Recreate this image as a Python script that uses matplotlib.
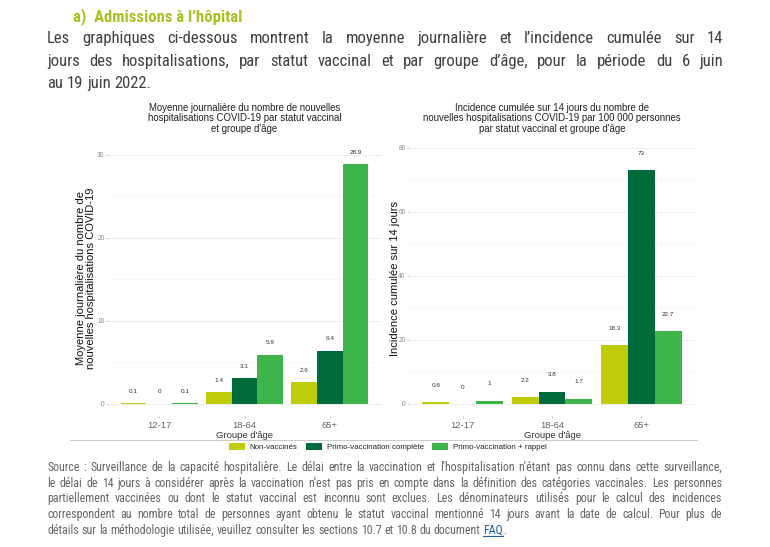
import matplotlib
matplotlib.use("Agg")
import matplotlib.pyplot as plt
import matplotlib.transforms as mtransforms
from matplotlib import font_manager
from matplotlib.font_manager import FontProperties
from matplotlib.patches import Patch
from matplotlib.lines import Line2D
import numpy as np

# ---------------- data ----------------
age_groups = ["12-17", "18-64", "65+"]
series_names = ["Non-vaccinés", "Primo-vaccination complète", "Primo-vaccination + rappel"]

daily_non_vacc = [0.1, 1.4, 2.6]
daily_primo = [0, 3.1, 6.4]
daily_rappel = [0.1, 5.9, 28.9]

incid_non_vacc = [0.6, 2.2, 18.3]
incid_primo = [0, 3.8, 73]
incid_rappel = [1, 1.7, 22.7]

left_yticks = [0, 10, 20, 30]
right_yticks = [0, 20, 40, 60, 80]

left_title = "Moyenne journalière du nombre de nouvelles\nhospitalisations COVID-19 par statut vaccinal\net groupe d'âge"
right_title = "Incidence cumulée sur 14 jours du nombre de\nnouvelles hospitalisations COVID-19 par 100 000 personnes\npar statut vaccinal et groupe d'âge"
left_ylabel = "Moyenne journalière du nombre de\nnouvelles hospitalisations COVID-19"
right_ylabel = "Incidence cumulée sur 14 jours"
xlabel = "Groupe d'âge"

header = "a)  Admissions à l’hôpital"
para_lines = [
    "Les graphiques ci-dessous montrent la moyenne journalière et l’incidence cumulée sur 14",
    "jours des hospitalisations, par statut vaccinal et par groupe d’âge, pour la période du 6 juin",
    "au 19 juin 2022.",
]
source_lines = [
    "Source : Surveillance de la capacité hospitalière. Le délai entre la vaccination et l’hospitalisation n’étant pas connu dans cette surveillance,",
    "le délai de 14 jours à considérer après la vaccination n’est pas pris en compte dans la définition des catégories vaccinales. Les personnes",
    "partiellement vaccinées ou dont le statut vaccinal est inconnu sont exclues. Les dénominateurs utilisés pour le calcul des incidences",
    "correspondent au nombre total de personnes ayant obtenu le statut vaccinal mentionné 14 jours avant la date de calcul. Pour plus de",
    "détails sur la méthodologie utilisée, veuillez consulter les sections 10.7 et 10.8 du document",
]
link_text = "FAQ"

# ---------------- style ----------------
colors = ["#BFCC0A", "#006B3A", "#3DB54A"]
header_green = "#A6C31E"

ttf = font_manager.fontManager.ttflist
names = {f.name for f in ttf}
chart_font = "Liberation Sans" if "Liberation Sans" in names else "DejaVu Sans"
plt.rcParams["font.family"] = [chart_font, "DejaVu Sans"]


def _is_regular(f):
    return f.style == "normal" and f.weight in (400, "normal", "regular", "book")


def _is_bold(f):
    return f.style == "normal" and f.weight in (700, "bold")


def find_narrow(pred):
    prefs = ["Liberation Sans Narrow", "Arial Narrow", "Roboto Condensed",
             "Open Sans Condensed", "Noto Sans", "DejaVu Sans"]
    cands = []
    for f in ttf:
        fn = f.fname.lower()
        narrow = ("narrow" in f.name.lower() or "condensed" in f.name.lower()
                  or f.stretch in ("condensed", "semi-condensed", 500, 300)
                  or ("condensed" in fn and "semicondensed" not in fn and "extra" not in fn))
        if narrow and pred(f) and "mono" not in f.name.lower() and "serif" not in f.name.lower():
            rank = next((i for i, p in enumerate(prefs) if f.name.startswith(p)), 99)
            cands.append((rank, f.fname))
    if cands:
        cands.sort()
        return cands[0][1]
    return None


narrow_reg = find_narrow(_is_regular)
narrow_bold = find_narrow(_is_bold)


def prop(size, bold=False):
    fname = narrow_bold if bold else narrow_reg
    if fname:
        return FontProperties(fname=fname, size=size)
    return FontProperties(family=chart_font, size=size, weight="bold" if bold else "normal")


W, H = 770, 547
fig = plt.figure(figsize=(W / 100, H / 100), dpi=100)
fig.patch.set_facecolor("white")


def px_axes(x0, y0, x1, y1):
    return fig.add_axes([x0 / W, 1 - y1 / H, (x1 - x0) / W, (y1 - y0) / H])


def draw_chart(ax, series, yticks, ylim, nudge, title, ylabel, label_x):
    x = np.arange(len(age_groups)) + 1
    width = 0.3
    for i, (vals, c) in enumerate(zip(series, colors)):
        pos = x + (i - 1) * width
        ax.bar(pos, vals, width=width, color=c, edgecolor="none", zorder=3,
               label=series_names[i])
        for p, v in zip(pos, vals):
            ax.text(p, v + nudge, f"{v:g}", ha="center", va="center",
                    fontsize=4.6, color="#333333", zorder=4)
    ax.set_xlim(0.4, 3.6)
    ax.set_ylim(*ylim)
    ax.set_yticks(yticks)
    minor = [(a + b) / 2 for a, b in zip(yticks[:-1], yticks[1:])]
    ax.set_yticks(minor, minor=True)
    ax.grid(axis="y", which="major", color="#EBEBEB", lw=0.6, zorder=0)
    ax.grid(axis="y", which="minor", color="#F5F5F5", lw=0.5, zorder=0)
    ax.set_xticks(x)
    ax.set_xticklabels(age_groups)
    for s in ax.spines.values():
        s.set_visible(False)
    ax.tick_params(axis="y", which="major", length=1.5, width=0.5, color="#AAAAAA",
                   labelsize=4.8, labelcolor="#8C8C8C", pad=1)
    ax.tick_params(axis="y", which="minor", length=0)
    ax.tick_params(axis="x", length=1.5, width=0.5, color="#AAAAAA",
                   labelsize=6.8, labelcolor="#666666", pad=2)
    ax.set_xlabel(xlabel, fontsize=6.8, color="#333333", labelpad=0.5)
    ax.set_ylabel(ylabel, fontsize=8, color="#111111", linespacing=1.0)
    ax.yaxis.set_label_coords(label_x, 0.5)
    ax.set_title(title, fontsize=6.9, color="#222222", linespacing=1.05, pad=6)


ax1 = px_axes(108, 140, 381, 416)
draw_chart(ax1, [daily_non_vacc, daily_primo, daily_rappel], left_yticks,
           (-1.45, 31.8), 1.45, left_title, left_ylabel, -0.045)
ax2 = px_axes(409, 140, 695, 416)
draw_chart(ax2, [incid_non_vacc, incid_primo, incid_rappel], right_yticks,
           (-3.75, 82.5), 5.3, right_title, right_ylabel, -0.033)

# separator line above legend
fig.add_artist(Line2D([70 / W, 697 / W], [1 - 440 / H, 1 - 440 / H],
                      color="#CCCCCC", lw=0.8))

handles = [Patch(facecolor=c, edgecolor="none") for c in colors]
fig.legend(handles, series_names, loc="center", bbox_to_anchor=(388 / W, 1 - 447 / H),
           ncol=3, frameon=False, fontsize=5.7, handlelength=2.0, handleheight=1.0,
           handletextpad=0.6, columnspacing=1.1, borderpad=0, labelcolor="#222222")

ident = mtransforms.IdentityTransform()
renderer = fig.canvas.get_renderer()


def text_width(s, fp):
    t = fig.text(0, 0, s, transform=ident, fontproperties=fp)
    w = t.get_window_extent(renderer).width
    t.remove()
    return w


def fit_size(lines, target, desired):
    s0 = 10.0
    fp = prop(s0)
    nat = max(text_width(l, fp) for l in lines)
    return min(desired, s0 * target * 0.985 / nat)


def justify(line, x0, x1, y, fp, last=False, color="k"):
    words = line.split(" ")
    texts = [fig.text(0, H - y, w, transform=ident, va="baseline", ha="left",
                      fontproperties=fp, color=color) for w in words]
    widths = [t.get_window_extent(renderer).width for t in texts]
    sw = text_width("a a", fp) - text_width("aa", fp)
    if last or len(words) == 1:
        gap = sw
    else:
        gap = (x1 - x0 - sum(widths)) / (len(words) - 1)
    x = x0
    for t, w in zip(texts, widths):
        t.set_x(x)
        x += w + gap
    return x - gap


para_size = fit_size(para_lines[:-1], 723 - 47, 12.0)
fp_para = prop(para_size)
fig.text(73, H - 21, header, transform=ident, va="baseline", ha="left",
         fontproperties=prop(para_size, bold=True), color=header_green)
para_base = [43, 66, 88]
for i, (line, y) in enumerate(zip(para_lines, para_base)):
    justify(line, 47, 723, y, fp_para, last=(i == len(para_lines) - 1), color="#404040")

src_size = fit_size(source_lines[:-1], 722 - 47, 8.6)
fp_src = prop(src_size)
src_base = [471, 487, 502, 518, 534]
end_x = None
for i, (line, y) in enumerate(zip(source_lines, src_base)):
    end_x = justify(line, 47, 722, y, fp_src, last=(i == len(source_lines) - 1),
                    color="#666666")
sw_src = text_width("a a", fp_src) - text_width("aa", fp_src)
lt = fig.text(end_x + sw_src, H - src_base[-1], link_text, transform=ident,
              va="baseline", ha="left", fontproperties=fp_src, color="#1F5FA0")
bb = lt.get_window_extent(renderer)
fig.add_artist(Line2D([bb.x0, bb.x1], [H - src_base[-1] - 2, H - src_base[-1] - 2],
                      transform=ident, color="#1F5FA0", lw=0.8))
fig.text(bb.x1, H - src_base[-1], ".", transform=ident, va="baseline", ha="left",
         fontproperties=fp_src, color="#666666")

fig.savefig("out.png", dpi=100, facecolor="white")
